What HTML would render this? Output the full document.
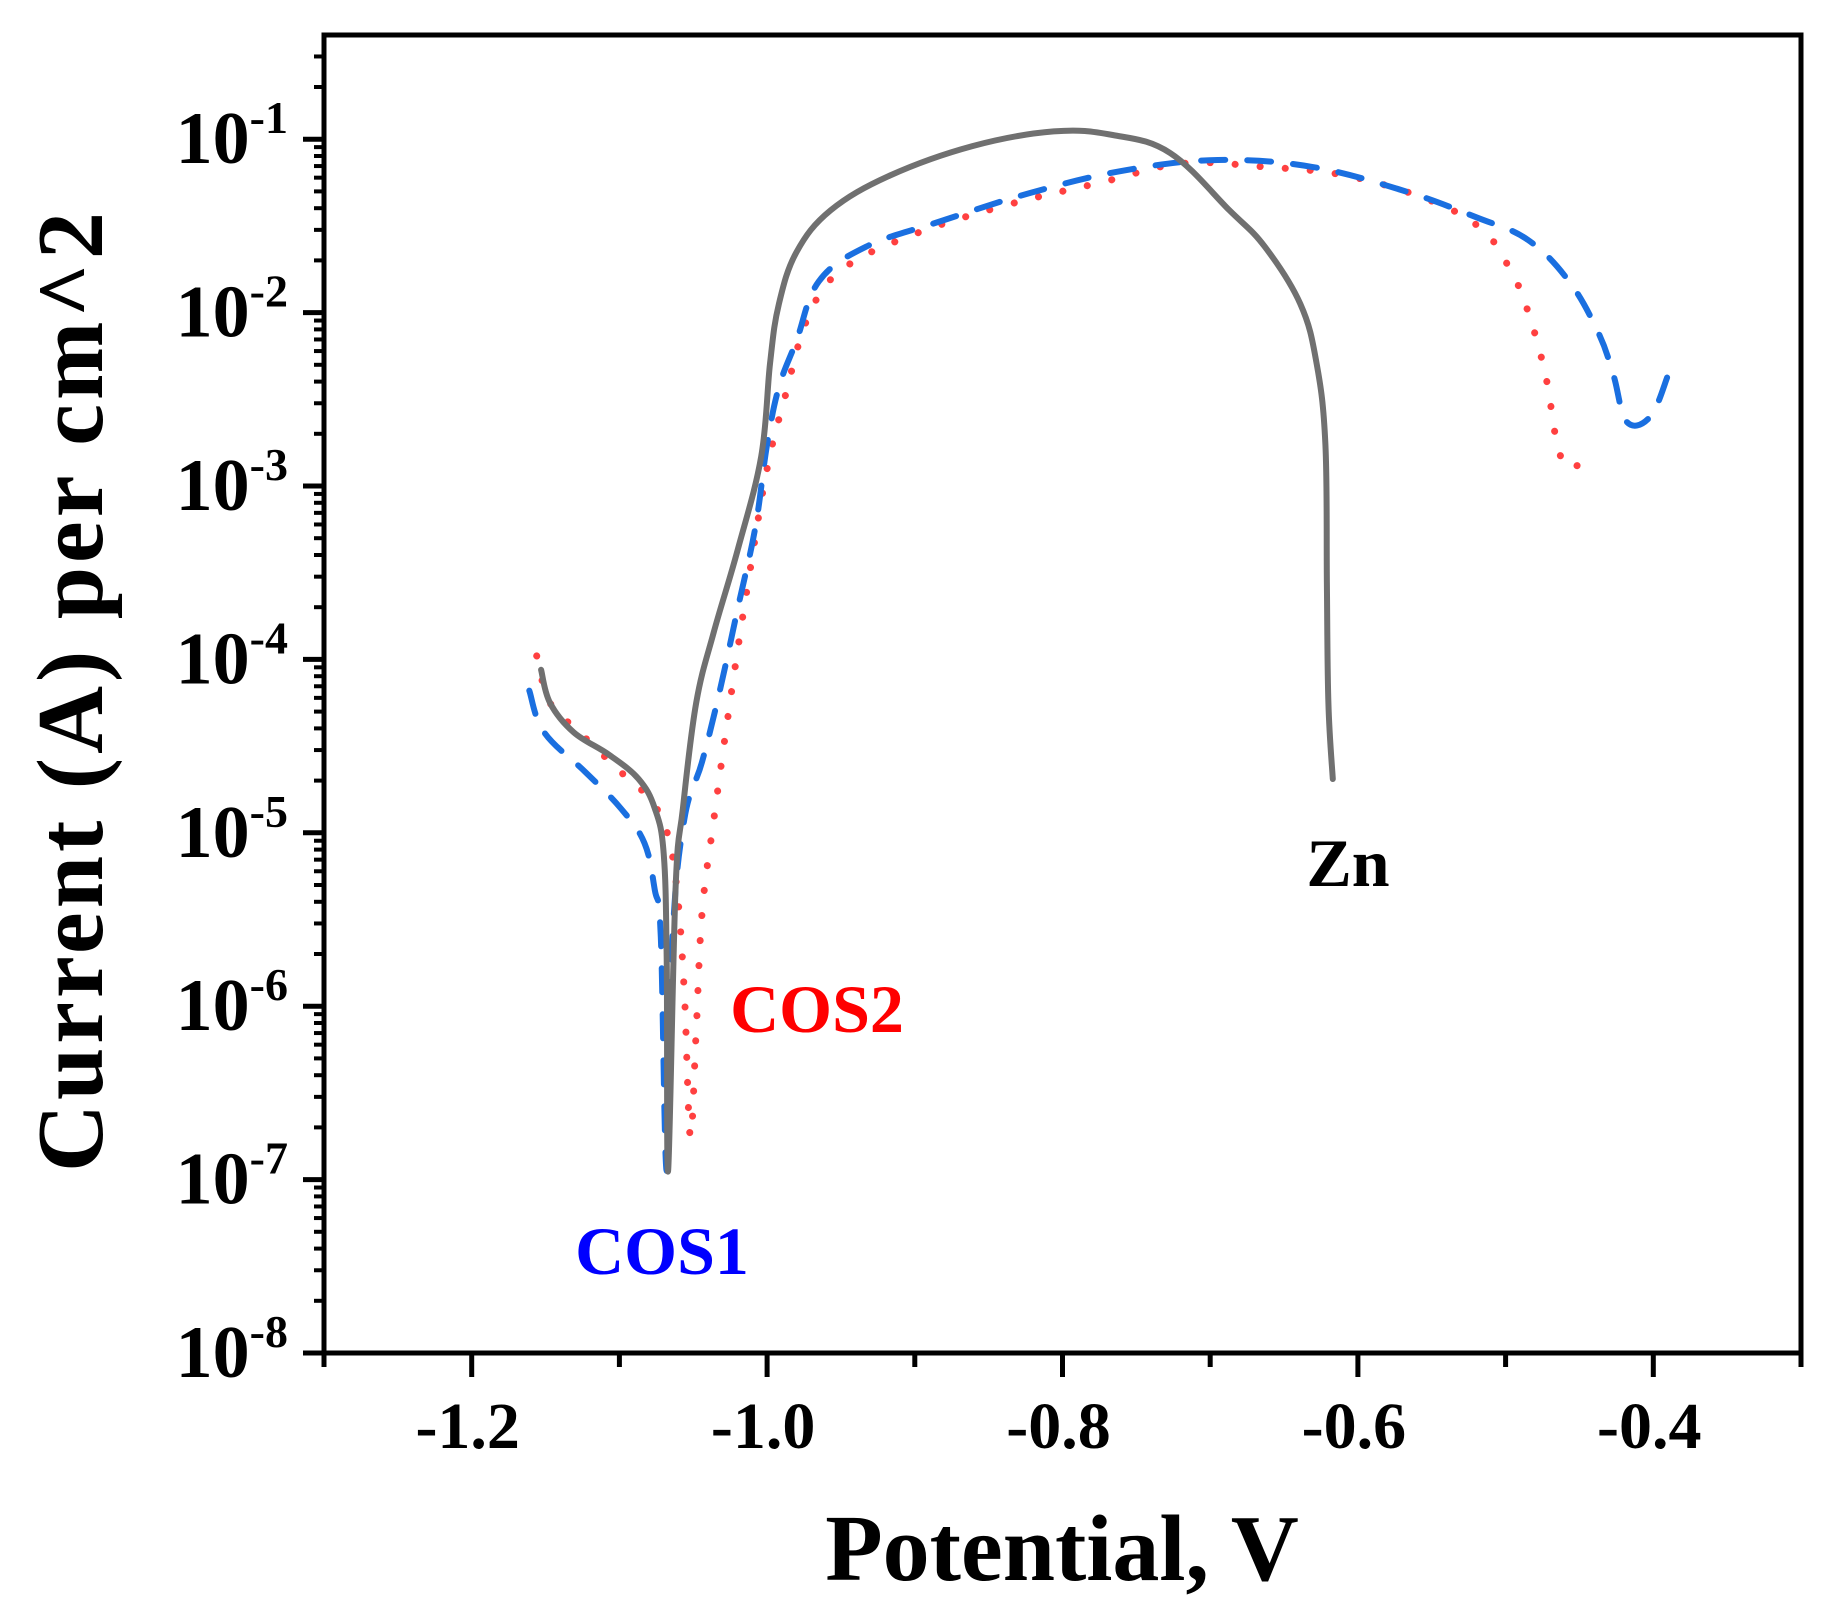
<!DOCTYPE html>
<html><head><meta charset="utf-8"><style>
body{margin:0;background:#fff}
svg{display:block;font-family:"Liberation Serif",serif;font-weight:bold}
</style></head><body>
<svg id="chart" width="1835" height="1622" viewBox="0 0 1835 1622">
<g id="plot"></g>
<g id="axes"></g>
<text x="1062" y="1580" font-size="94" text-anchor="middle">Potential, V</text>
<text transform="translate(102,690) rotate(-90)" font-size="94" text-anchor="middle" letter-spacing="4">Current (A) per cm^2</text>
<text x="1348" y="886" font-size="68" text-anchor="middle" fill="#000">Zn</text>
<text x="817" y="1032" font-size="68" text-anchor="middle" fill="#ff0000">COS2</text>
<text x="662" y="1274" font-size="68" text-anchor="middle" fill="#0000ff">COS1</text>
</svg>
<script>
const xTicks=[-1.2,-1.0,-0.8,-0.6,-0.4];
const xTickLabels=["-1.2","-1.0","-0.8","-0.6","-0.4"];
const yDecades=[-8,-7,-6,-5,-4,-3,-2,-1];
const znV=[-1.153,-1.147,-1.131,-1.107,-1.087,-1.076,-1.070,-1.068,-1.067,-1.062,-1.057,-1.048,-1.036,-1.020,-1.004,-0.998,-0.992,-0.980,-0.957,-0.917,-0.861,-0.806,-0.766,-0.727,-0.687,-0.663,-0.639,-0.628,-0.622,-0.621,-0.620,-0.617];
const znLogI=[-4.06,-4.25,-4.42,-4.55,-4.69,-4.86,-5.12,-5.73,-6.95,-5.33,-4.86,-4.25,-3.84,-3.37,-2.83,-2.29,-1.95,-1.65,-1.41,-1.21,-1.04,-0.955,-0.976,-1.08,-1.41,-1.62,-1.95,-2.29,-2.76,-3.57,-4.25,-4.69];
const cos1V=[-1.161,-1.151,-1.123,-1.099,-1.083,-1.076,-1.072,-1.068,-1.064,-1.056,-1.044,-1.032,-1.020,-1.008,-1.000,-0.992,-0.980,-0.965,-0.933,-0.885,-0.822,-0.758,-0.695,-0.631,-0.568,-0.520,-0.485,-0.457,-0.437,-0.427,-0.418,-0.402,-0.390];
const cos1LogI=[-4.18,-4.42,-4.65,-4.86,-5.06,-5.33,-5.60,-6.95,-5.60,-4.92,-4.59,-4.18,-3.71,-3.24,-2.76,-2.43,-2.16,-1.82,-1.62,-1.48,-1.31,-1.18,-1.12,-1.16,-1.30,-1.45,-1.58,-1.82,-2.12,-2.36,-2.63,-2.60,-2.36];
const cos2V=[-1.156,-1.147,-1.127,-1.099,-1.080,-1.068,-1.061,-1.056,-1.052,-1.048,-1.044,-1.036,-1.024,-1.012,-1.000,-0.988,-0.972,-0.949,-0.901,-0.838,-0.774,-0.719,-0.663,-0.608,-0.552,-0.516,-0.497,-0.485,-0.473,-0.465,-0.457,-0.445];
const cos2LogI=[-3.98,-4.25,-4.42,-4.65,-4.80,-4.99,-5.33,-5.93,-6.75,-6.14,-5.46,-4.92,-4.18,-3.51,-2.90,-2.49,-2.02,-1.75,-1.55,-1.38,-1.25,-1.14,-1.16,-1.21,-1.35,-1.52,-1.75,-1.99,-2.36,-2.76,-2.90,-2.83];

const X0=324,X1=1801,Y0=1353,YT=35;
const xS=v=>X0+(v+1.3)/1.0*(X1-X0);
const yS=l=>Y0-(l+8)*173.4;
const NS="http://www.w3.org/2000/svg";
const plot=document.getElementById('plot'),axes=document.getElementById('axes');
function mk(tag,attrs,parent){const e=document.createElementNS(NS,tag);for(const k in attrs)e.setAttribute(k,attrs[k]);parent.appendChild(e);return e;}

function smoothPath(V,L){
  const P=V.map((v,i)=>[xS(v),yS(L[i])]);
  let d='M'+P[0][0].toFixed(1)+','+P[0][1].toFixed(1);
  const t=0.18;
  for(let i=0;i<P.length-1;i++){
    const p0=P[Math.max(0,i-1)],p1=P[i],p2=P[i+1],p3=P[Math.min(P.length-1,i+2)];
    const c1=[p1[0]+(p2[0]-p0[0])*t,p1[1]+(p2[1]-p0[1])*t];
    const c2=[p2[0]-(p3[0]-p1[0])*t,p2[1]-(p3[1]-p1[1])*t];
    d+=' C'+c1.map(n=>n.toFixed(1)).join(',')+' '+c2.map(n=>n.toFixed(1)).join(',')+' '+p2[0].toFixed(1)+','+p2[1].toFixed(1);
  }
  return d;
}
function series(V,L,color,dash,width,name){
  const p=mk('path',{d:smoothPath(V,L),fill:'none',stroke:color,'stroke-width':width,'stroke-dasharray':dash,'stroke-linejoin':'round','stroke-linecap':'round'},plot);
  
  
}
series(cos2V,cos2LogI,'#ff4040','0.1 25',7,'series-cos2');
series(cos1V,cos1LogI,'#1a6fe0','24 22',6,'series-cos1');
series(znV,znLogI,'#707070','',6,'series-zn');

const fr=mk('rect',{x:X0,y:YT,width:X1-X0,height:Y0-YT,fill:'none',stroke:'#000','stroke-width':5},axes);


for(let v=-1.3;v<=-0.29;v+=0.1){
  const major=xTicks.some(t=>Math.abs(t-v)<1e-6);
  const x=xS(v);
  const t=mk('line',{x1:x,x2:x,y1:Y0,y2:Y0+(major?24:14),stroke:'#000','stroke-width':5},axes);
  
  
}
xTicks.forEach((v,i)=>{
  const t=mk('text',{x:xS(v)-4,y:1448,'font-size':66,'text-anchor':'middle'},axes);
  t.textContent=xTickLabels[i];
  
  
});
for(let d=-8;d<=-1;d++){
  const y=yS(d);
  const t=mk('line',{x1:X0-21,x2:X0,y1:y,y2:y,stroke:'#000','stroke-width':5},axes);
  
  
}
for(let d=-8;d<=-1;d++){for(let m=2;m<=9;m++){
  const l=d+Math.log10(m); if(yS(l)<YT+3)continue;
  const y=yS(l);
  const t=mk('line',{x1:X0-10,x2:X0,y1:y,y2:y,stroke:'#000','stroke-width':4},axes);
  
  
}}
yDecades.forEach(d=>{
  const y=yS(d);
  const t=mk('text',{x:288,y:y+24,'font-size':74,'text-anchor':'end'},axes);
  
  
  const a=document.createElementNS(NS,'tspan');a.textContent='10';t.appendChild(a);
  const b=document.createElementNS(NS,'tspan');b.setAttribute('font-size','46');b.setAttribute('dy','-30');b.textContent=String(d);t.appendChild(b);
});
</script>
</body></html>
